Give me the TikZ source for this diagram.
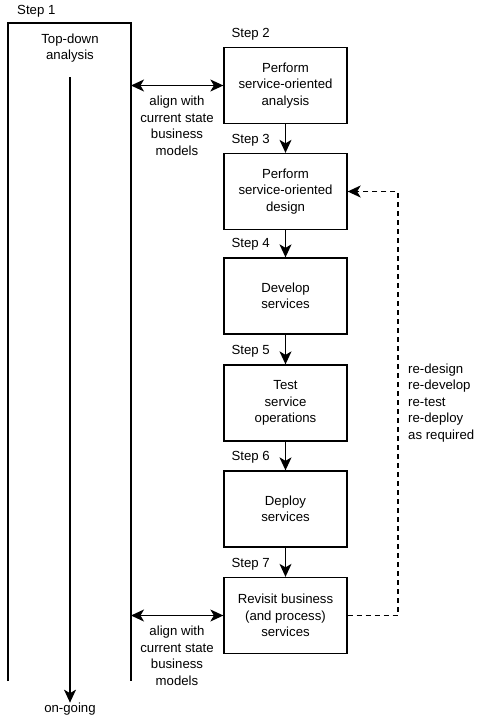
\documentclass[tikz,border=0pt]{standalone}
\usepackage{fontspec}
\setmainfont{Liberation Sans}
\usetikzlibrary{arrows.meta,positioning}
\begin{document}
\begin{tikzpicture}[x=1pt,y=-1pt,
  every node/.style={font=\fontsize{13.2}{16.5}\selectfont, inner sep=0pt},
  box/.style={draw, line width=1.3pt, minimum width=123pt, minimum height=76pt, align=center},
  steplbl/.style={anchor=south west},
  tip/.tip={Stealth[length=13pt,width=12pt,inset=3.5pt]},
  flow/.style={line width=1.3pt, -tip},
  both/.style={line width=1.3pt, tip-tip},
  lbl/.style={align=center}]
\useasboundingbox (0,0) rectangle (482,720);
% Step 1 column
\coordinate (s1tl) at (8,23);
\coordinate (s1tr) at (131,23);
\coordinate (s1bl) at (8,681);
\coordinate (s1br) at (131,681);
\draw[line width=1.3pt] (s1bl) -- (s1tl) -- (s1tr) -- (s1br);
\node[anchor=south west] (st1) at (17,17.5) {Step 1};
\node[lbl] (td) at (70,48) {Top-down\\analysis};
\node (og) at (70,709) {on-going};
\coordinate (tdtop) at (70,77);
\draw[flow] (tdtop) -- (og.north);
% boxes
\node[box] (b2) at (285.5,85.5) {Perform\\service-oriented\\analysis};
\node[box] (b3) at (285.5,191.5) {Perform\\service-oriented\\design};
\node[box] (b4) at (285.5,296) {Develop\\services};
\node[box] (b5) at (285.5,403) {Test\\service\\operations};
\node[box] (b6) at (285.5,509) {Deploy\\services};
\node[box] (b7) at (285.5,615.5) {Revisit business\\(and process)\\services};
\foreach \n/\s in {b2/2,b3/3,b4/4,b5/5,b6/6,b7/7}{
  \node[steplbl] (l\s) at ([xshift=8pt,yshift=6.5pt]\n.north west) {Step \s};
}
\draw[flow] (b2) -- (b3);
\draw[flow] (b3) -- (b4);
\draw[flow] (b4) -- (b5);
\draw[flow] (b5) -- (b6);
\draw[flow] (b6) -- (b7);
% alignment arrows
\draw[both] (s1tr |- b2.west) -- (b2.west);
\draw[both] (s1tr |- b7.west) -- (b7.west);
\node[lbl] (al1) at (177,126) {align with\\current state\\business\\models};
\node[lbl] (al2) at (177,656) {align with\\current state\\business\\models};
% feedback
\coordinate (fb) at (398,0);
\draw[line width=1.3pt, dash pattern=on 5pt off 4pt, -tip]
  (b7.east) -- (fb |- b7.east) -- (fb |- b3.east) -- (b3.east);
\node[anchor=west, align=left] (re) at (408,403) {re-design\\re-develop\\re-test\\re-deploy\\as required};
\end{tikzpicture}
\end{document}
